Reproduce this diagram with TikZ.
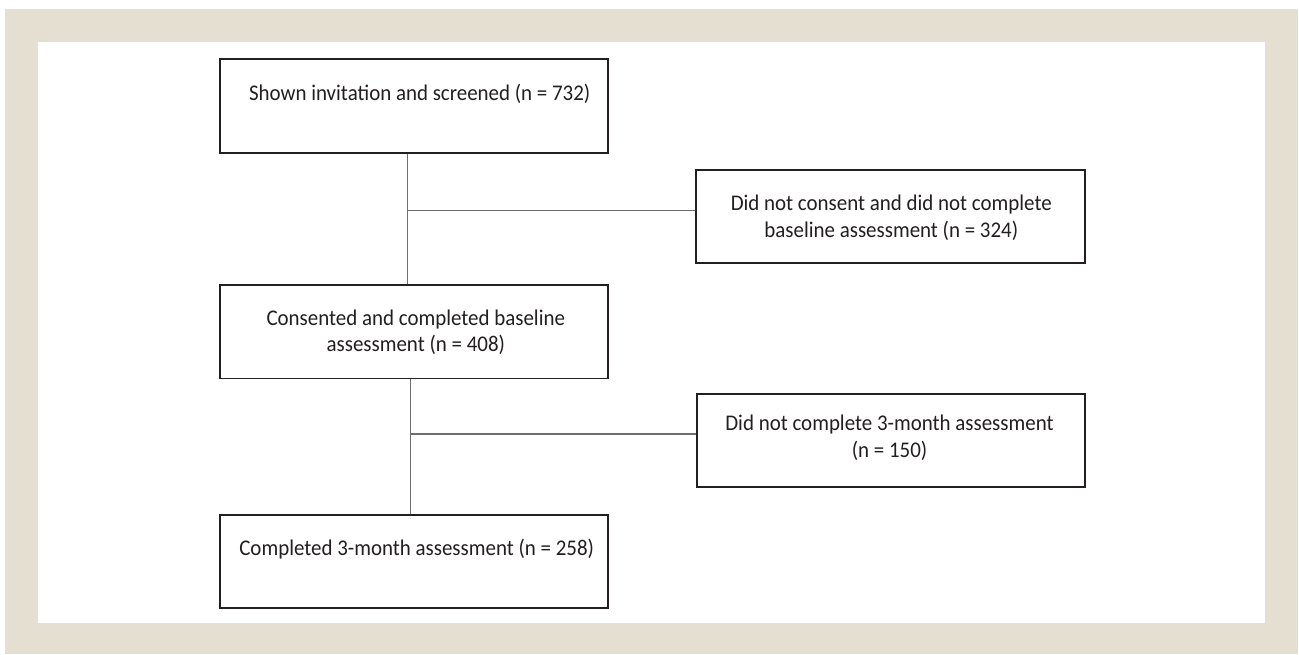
\documentclass[tikz,border=0pt]{standalone}
\usepackage{fontspec}
\setmainfont{Carlito}[FakeStretch=0.935]
\definecolor{beige}{RGB}{229,223,210}
\definecolor{ink}{RGB}{35,31,32}
\definecolor{wire}{RGB}{110,110,110}
\begin{document}
\begin{tikzpicture}[x=1pt,y=-1pt,
  boxnode/.style={draw=ink,line width=1.8pt,minimum width=388pt,inner sep=0pt,anchor=north west},
  txt/.style={text=ink,font=\fontsize{22.4}{28}\selectfont,inner sep=0pt,anchor=base},
  conn/.style={draw=wire,line width=1.3pt}]
\useasboundingbox (0,0) rectangle (1299,654);
\fill[white] (0,0) rectangle (1299,654);
\fill[beige] (5.3,9) rectangle (1298,654);
\fill[white] (38.3,41.7) rectangle (1265,623.3);
% boxes
\node[boxnode,minimum height=93.4pt] (b1) at (219.3,58.3) {};
\node[boxnode,minimum width=389pt,minimum height=93pt] (b2) at (695,169.3) {};
\node[boxnode,minimum height=93.2pt] (b3) at (219.3,284.3) {};
\node[boxnode,minimum width=388pt,minimum height=93.3pt] (b4) at (696,392.7) {};
\node[boxnode,minimum height=93pt] (b5) at (219.3,514) {};
% texts
\node[txt] (t1) at (419.7,100) {Shown invitation and screened (n = 732)};
\node[txt] (t2a) at (891.3,210) {Did not consent and did not complete};
\node[txt] (t2b) at (891.3,237.3) {baseline assessment (n = 324)};
\node[txt] (t3a) at (415.8,325) {Consented and completed baseline};
\node[txt] (t3b) at (415.8,351.7) {assessment (n = 408)};
\node[txt] (t4a) at (889.5,430) {Did not complete 3-month assessment};
\node[txt] (t4b) at (889.5,457.3) {(n = 150)};
\node[txt] (t5) at (416.7,555) {Completed 3-month assessment (n = 258)};
% connectors
\coordinate (j1) at (407.3,210.7);
\coordinate (j2) at (410.7,434);
\draw[conn] (b1.south -| j1) -- (b3.north -| j1);
\draw[conn] (j1) -- (j1 -| b2.west);
\draw[conn] (b3.south -| j2) -- (b5.north -| j2);
\draw[conn] (j2) -- (j2 -| b4.west);
\end{tikzpicture}
\end{document}
